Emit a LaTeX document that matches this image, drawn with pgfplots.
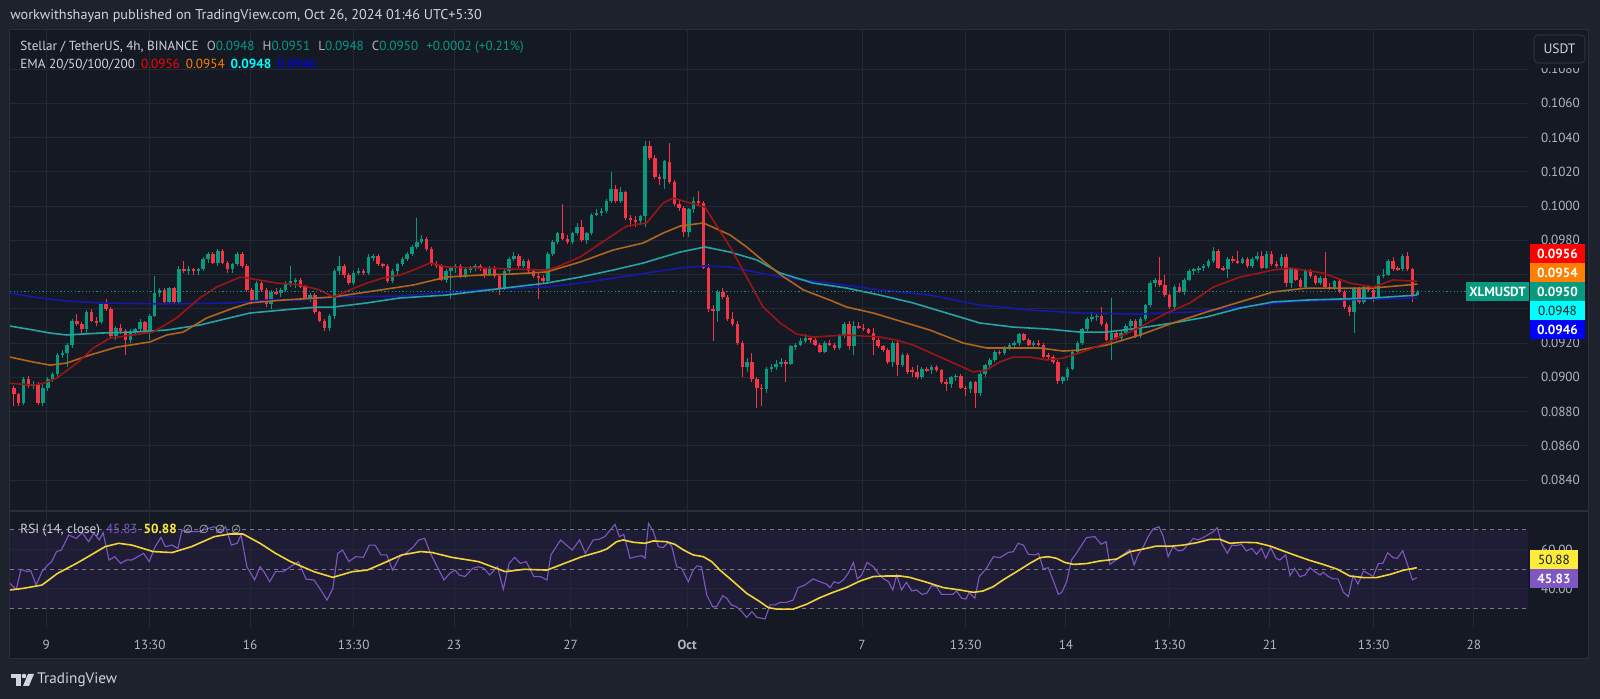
\documentclass[border=0pt]{standalone}
\usepackage{pgfplots}
\pgfplotsset{compat=1.18}
\usepackage{pgfplotstable}
\usepackage{fontspec}
\setmainfont{PT Sans}
\newfontfamily\dejavu{DejaVu Sans}
\definecolor{outerbg}{HTML}{1E222D}
\definecolor{panelbg}{HTML}{151924}
\definecolor{gridc}{HTML}{232835}
\definecolor{sepc}{HTML}{2A2E39}
\definecolor{txt}{HTML}{B2B5BE}
\definecolor{txtl}{HTML}{D1D4DC}
\definecolor{upc}{HTML}{089981}
\definecolor{dnc}{HTML}{F23645}
\definecolor{ema20}{HTML}{9A1616}
\definecolor{ema50}{HTML}{B0651C}
\definecolor{ema100}{HTML}{25A3A6}
\definecolor{ema200}{HTML}{1818A8}
\definecolor{rsic}{HTML}{7E57C2}
\definecolor{rsima}{HTML}{F2D43A}
\definecolor{band}{HTML}{1F1D35}
\definecolor{dashc}{HTML}{787B86}
\definecolor{lred}{HTML}{FF0000}
\definecolor{lorange}{HTML}{FF8000}
\definecolor{lcyan}{HTML}{00FFFF}
\definecolor{lblue}{HTML}{0000FF}
\definecolor{lyellow}{HTML}{FFEB3B}
\newcommand\fs[1]{\fontsize{#1}{#1}\selectfont}

\pgfplotstableread{
o h l c
0.0894 0.0895 0.0883 0.0890
0.0890 0.0891 0.0883 0.0885
0.0885 0.0900 0.0884 0.0899
0.0899 0.0901 0.0894 0.0895
0.0895 0.0898 0.0893 0.0896
0.0896 0.0897 0.0884 0.0885
0.0885 0.0896 0.0883 0.0894
0.0894 0.0900 0.0892 0.0899
0.0899 0.0903 0.0897 0.0902
0.0902 0.0914 0.0900 0.0913
0.0913 0.0916 0.0911 0.0914
0.0914 0.0920 0.0906 0.0919
0.0919 0.0934 0.0917 0.0933
0.0933 0.0937 0.0930 0.0931
0.0931 0.0932 0.0925 0.0928
0.0928 0.0939 0.0926 0.0938
0.0938 0.0940 0.0932 0.0933
0.0933 0.0935 0.0930 0.0932
0.0932 0.0944 0.0931 0.0943
0.0943 0.0946 0.0939 0.0940
0.0940 0.0941 0.0923 0.0924
0.0924 0.0930 0.0922 0.0929
0.0929 0.0931 0.0925 0.0927
0.0927 0.0928 0.0913 0.0922
0.0922 0.0928 0.0920 0.0927
0.0927 0.0929 0.0925 0.0928
0.0928 0.0934 0.0927 0.0932
0.0932 0.0933 0.0926 0.0927
0.0927 0.0937 0.0922 0.0936
0.0936 0.0959 0.0935 0.0949
0.0949 0.0952 0.0947 0.0951
0.0951 0.0952 0.0943 0.0944
0.0944 0.0953 0.0943 0.0952
0.0952 0.0953 0.0943 0.0944
0.0944 0.0965 0.0943 0.0963
0.0963 0.0968 0.0961 0.0962
0.0962 0.0965 0.0960 0.0963
0.0963 0.0964 0.0960 0.0962
0.0962 0.0964 0.0960 0.0963
0.0963 0.0970 0.0962 0.0969
0.0969 0.0973 0.0967 0.0972
0.0972 0.0973 0.0966 0.0967
0.0967 0.0975 0.0965 0.0974
0.0974 0.0975 0.0966 0.0967
0.0967 0.0968 0.0961 0.0963
0.0963 0.0967 0.0961 0.0966
0.0966 0.0973 0.0965 0.0972
0.0972 0.0973 0.0964 0.0965
0.0965 0.0966 0.0950 0.0951
0.0951 0.0952 0.0943 0.0945
0.0945 0.0956 0.0944 0.0955
0.0955 0.0957 0.0950 0.0951
0.0951 0.0952 0.0941 0.0943
0.0943 0.0951 0.0940 0.0950
0.0950 0.0952 0.0948 0.0949
0.0949 0.0952 0.0947 0.0951
0.0951 0.0956 0.0950 0.0955
0.0955 0.0965 0.0953 0.0956
0.0956 0.0958 0.0952 0.0957
0.0957 0.0958 0.0952 0.0953
0.0953 0.0954 0.0945 0.0946
0.0946 0.0949 0.0944 0.0948
0.0948 0.0949 0.0937 0.0938
0.0938 0.0939 0.0932 0.0933
0.0933 0.0934 0.0927 0.0929
0.0929 0.0937 0.0927 0.0936
0.0936 0.0963 0.0934 0.0962
0.0962 0.0971 0.0960 0.0965
0.0965 0.0966 0.0958 0.0960
0.0960 0.0961 0.0954 0.0955
0.0955 0.0962 0.0954 0.0961
0.0961 0.0964 0.0960 0.0962
0.0962 0.0963 0.0960 0.0961
0.0961 0.0972 0.0960 0.0970
0.0970 0.0972 0.0968 0.0971
0.0971 0.0972 0.0965 0.0966
0.0966 0.0967 0.0964 0.0965
0.0965 0.0966 0.0955 0.0956
0.0956 0.0963 0.0955 0.0962
0.0962 0.0967 0.0960 0.0966
0.0966 0.0970 0.0965 0.0969
0.0969 0.0973 0.0968 0.0972
0.0972 0.0977 0.0971 0.0976
0.0976 0.0993 0.0975 0.0979
0.0979 0.0983 0.0978 0.0981
0.0981 0.0982 0.0974 0.0975
0.0975 0.0976 0.0965 0.0966
0.0966 0.0968 0.0964 0.0965
0.0965 0.0966 0.0956 0.0957
0.0957 0.0963 0.0955 0.0962
0.0962 0.0965 0.0946 0.0964
0.0964 0.0966 0.0961 0.0965
0.0965 0.0966 0.0958 0.0959
0.0959 0.0964 0.0958 0.0963
0.0963 0.0965 0.0961 0.0964
0.0964 0.0966 0.0962 0.0965
0.0965 0.0966 0.0962 0.0963
0.0963 0.0964 0.0958 0.0960
0.0960 0.0965 0.0959 0.0964
0.0964 0.0965 0.0958 0.0959
0.0959 0.0960 0.0948 0.0952
0.0952 0.0963 0.0951 0.0962
0.0962 0.0970 0.0961 0.0969
0.0969 0.0973 0.0968 0.0971
0.0971 0.0972 0.0964 0.0965
0.0965 0.0969 0.0964 0.0968
0.0968 0.0969 0.0961 0.0962
0.0962 0.0963 0.0958 0.0959
0.0959 0.0961 0.0946 0.0958
0.0958 0.0960 0.0955 0.0956
0.0956 0.0973 0.0955 0.0972
0.0972 0.0980 0.0971 0.0979
0.0979 0.0985 0.0978 0.0984
0.0984 0.1001 0.0980 0.0981
0.0981 0.0983 0.0978 0.0979
0.0979 0.0985 0.0978 0.0984
0.0984 0.0990 0.0983 0.0988
0.0988 0.0992 0.0979 0.0980
0.0980 0.0985 0.0978 0.0984
0.0984 0.0996 0.0983 0.0995
0.0995 0.0998 0.0994 0.0996
0.0996 0.0999 0.0994 0.0997
0.0997 0.1004 0.0996 0.1003
0.1003 0.1020 0.1002 0.1010
0.1010 0.1012 0.1002 0.1003
0.1003 0.1011 0.1002 0.1008
0.1008 0.1009 0.0992 0.0993
0.0993 0.0995 0.0988 0.0992
0.0992 0.0994 0.0988 0.0991
0.0991 0.0995 0.0989 0.0994
0.0994 0.1038 0.0988 0.1035
0.1035 0.1038 0.1027 0.1028
0.1028 0.1030 0.1016 0.1017
0.1017 0.1019 0.1012 0.1016
0.1016 0.1027 0.1010 0.1026
0.1026 0.1037 0.1013 0.1014
0.1014 0.1015 0.1000 0.1001
0.1001 0.1003 0.0997 0.0999
0.0999 0.1000 0.0982 0.0985
0.0985 0.0999 0.0982 0.0998
0.0998 0.1005 0.0996 0.1003
0.1003 0.1009 0.1000 0.1002
0.1002 0.1003 0.0963 0.0964
0.0964 0.0966 0.0938 0.0940
0.0940 0.0942 0.0921 0.0939
0.0939 0.0951 0.0932 0.0950
0.0950 0.0952 0.0946 0.0947
0.0947 0.0948 0.0933 0.0934
0.0934 0.0938 0.0930 0.0931
0.0931 0.0933 0.0919 0.0920
0.0920 0.0921 0.0900 0.0906
0.0906 0.0911 0.0903 0.0909
0.0909 0.0914 0.0897 0.0899
0.0899 0.0900 0.0882 0.0894
0.0894 0.0896 0.0883 0.0893
0.0893 0.0906 0.0891 0.0905
0.0905 0.0908 0.0903 0.0906
0.0906 0.0910 0.0904 0.0908
0.0908 0.0911 0.0906 0.0909
0.0909 0.0910 0.0897 0.0908
0.0908 0.0919 0.0907 0.0918
0.0918 0.0920 0.0916 0.0919
0.0919 0.0923 0.0918 0.0921
0.0921 0.0925 0.0920 0.0923
0.0923 0.0924 0.0920 0.0922
0.0922 0.0923 0.0918 0.0919
0.0919 0.0920 0.0914 0.0915
0.0915 0.0921 0.0914 0.0920
0.0920 0.0922 0.0918 0.0919
0.0919 0.0920 0.0916 0.0917
0.0917 0.0925 0.0916 0.0924
0.0924 0.0932 0.0923 0.0931
0.0931 0.0933 0.0916 0.0918
0.0918 0.0933 0.0913 0.0930
0.0930 0.0932 0.0928 0.0929
0.0929 0.0931 0.0927 0.0928
0.0928 0.0929 0.0925 0.0926
0.0926 0.0929 0.0913 0.0922
0.0922 0.0923 0.0917 0.0918
0.0918 0.0919 0.0915 0.0916
0.0916 0.0917 0.0908 0.0909
0.0909 0.0921 0.0906 0.0920
0.0920 0.0921 0.0901 0.0907
0.0907 0.0914 0.0906 0.0913
0.0913 0.0914 0.0902 0.0903
0.0904 0.0906 0.0900 0.0903
0.0903 0.0907 0.0899 0.0900
0.0900 0.0906 0.0899 0.0905
0.0905 0.0906 0.0903 0.0904
0.0904 0.0907 0.0902 0.0906
0.0906 0.0907 0.0903 0.0904
0.0904 0.0905 0.0896 0.0897
0.0897 0.0899 0.0892 0.0896
0.0896 0.0901 0.0894 0.0900
0.0900 0.0902 0.0898 0.0901
0.0901 0.0902 0.0893 0.0894
0.0894 0.0895 0.0889 0.0893
0.0893 0.0898 0.0891 0.0897
0.0897 0.0898 0.0882 0.0891
0.0891 0.0903 0.0889 0.0902
0.0902 0.0908 0.0900 0.0907
0.0907 0.0911 0.0905 0.0910
0.0910 0.0916 0.0909 0.0915
0.0915 0.0916 0.0913 0.0914
0.0914 0.0918 0.0913 0.0917
0.0917 0.0920 0.0916 0.0919
0.0919 0.0921 0.0917 0.0920
0.0920 0.0926 0.0918 0.0925
0.0925 0.0926 0.0921 0.0922
0.0922 0.0923 0.0918 0.0919
0.0919 0.0921 0.0917 0.0920
0.0920 0.0922 0.0918 0.0919
0.0919 0.0920 0.0911 0.0912
0.0913 0.0914 0.0910 0.0912
0.0912 0.0913 0.0908 0.0909
0.0909 0.0910 0.0896 0.0898
0.0898 0.0901 0.0896 0.0900
0.0900 0.0906 0.0898 0.0905
0.0905 0.0916 0.0904 0.0915
0.0915 0.0921 0.0914 0.0920
0.0920 0.0929 0.0919 0.0928
0.0928 0.0935 0.0927 0.0934
0.0934 0.0938 0.0932 0.0935
0.0935 0.0937 0.0933 0.0936
0.0936 0.0941 0.0930 0.0931
0.0931 0.0932 0.0921 0.0922
0.0922 0.0946 0.0910 0.0926
0.0926 0.0927 0.0922 0.0923
0.0923 0.0927 0.0922 0.0926
0.0926 0.0931 0.0925 0.0930
0.0930 0.0934 0.0929 0.0933
0.0933 0.0934 0.0923 0.0924
0.0924 0.0935 0.0923 0.0934
0.0934 0.0943 0.0933 0.0942
0.0942 0.0956 0.0941 0.0955
0.0955 0.0958 0.0953 0.0957
0.0957 0.0970 0.0953 0.0954
0.0954 0.0960 0.0947 0.0948
0.0948 0.0949 0.0940 0.0941
0.0941 0.0954 0.0939 0.0953
0.0953 0.0955 0.0949 0.0950
0.0950 0.0958 0.0948 0.0957
0.0957 0.0963 0.0956 0.0962
0.0962 0.0964 0.0960 0.0963
0.0963 0.0965 0.0961 0.0964
0.0964 0.0966 0.0962 0.0965
0.0965 0.0969 0.0964 0.0968
0.0968 0.0976 0.0967 0.0974
0.0974 0.0975 0.0963 0.0964
0.0964 0.0965 0.0962 0.0963
0.0963 0.0970 0.0958 0.0969
0.0969 0.0971 0.0967 0.0968
0.0968 0.0974 0.0966 0.0967
0.0967 0.0970 0.0966 0.0969
0.0969 0.0970 0.0964 0.0965
0.0965 0.0970 0.0964 0.0969
0.0969 0.0973 0.0968 0.0971
0.0971 0.0974 0.0963 0.0964
0.0964 0.0974 0.0963 0.0972
0.0972 0.0974 0.0965 0.0966
0.0966 0.0968 0.0964 0.0965
0.0965 0.0972 0.0964 0.0970
0.0970 0.0972 0.0953 0.0955
0.0955 0.0964 0.0952 0.0963
0.0963 0.0964 0.0956 0.0957
0.0957 0.0958 0.0952 0.0953
0.0953 0.0963 0.0952 0.0962
0.0962 0.0963 0.0958 0.0959
0.0959 0.0960 0.0954 0.0955
0.0955 0.0959 0.0954 0.0958
0.0958 0.0973 0.0952 0.0953
0.0953 0.0955 0.0951 0.0952
0.0952 0.0957 0.0951 0.0956
0.0956 0.0957 0.0949 0.0950
0.0950 0.0951 0.0940 0.0941
0.0941 0.0942 0.0936 0.0938
0.0938 0.0953 0.0926 0.0952
0.0952 0.0953 0.0943 0.0944
0.0944 0.0954 0.0943 0.0953
0.0953 0.0954 0.0950 0.0951
0.0951 0.0952 0.0944 0.0946
0.0946 0.0960 0.0945 0.0959
0.0959 0.0963 0.0958 0.0960
0.0960 0.0969 0.0959 0.0968
0.0968 0.0970 0.0962 0.0963
0.0964 0.0965 0.0962 0.0963
0.0963 0.0972 0.0962 0.0971
0.0971 0.0973 0.0962 0.0963
0.0963 0.0964 0.0944 0.0948
0.0948 0.0951 0.0948 0.0950
}\candles

\pgfplotstableread{
i p
-0.8 0.08965
4.0 0.08955
6.1 0.08965
8.8 0.08995
13.0 0.09083
16.4 0.09171
19.8 0.09229
24.6 0.09247
28.7 0.09264
33.5 0.09346
38.3 0.09463
41.8 0.09527
46.6 0.09585
49.3 0.09574
54.1 0.09550
58.9 0.09539
63.0 0.09510
65.8 0.09469
69.2 0.09510
72.7 0.09550
76.1 0.09580
79.5 0.09597
82.3 0.09626
85.7 0.09667
89.1 0.09644
96.0 0.09638
102.8 0.09632
109.7 0.09626
111.8 0.09644
116.6 0.09702
123.4 0.09831
126.2 0.09883
130.3 0.09901
133.7 0.10017
135.8 0.10047
138.5 0.10023
142.3 0.09994
144.0 0.09918
147.5 0.09761
150.9 0.09585
154.3 0.09410
157.8 0.09317
161.2 0.09252
164.6 0.09235
171.5 0.09247
178.3 0.09235
181.8 0.09217
185.2 0.09188
192.1 0.09101
197.6 0.09031
200.3 0.09042
203.0 0.09089
205.8 0.09118
209.2 0.09118
212.7 0.09101
216.1 0.09112
219.5 0.09142
225.0 0.09200
231.9 0.09293
237.4 0.09375
242.2 0.09434
247.0 0.09527
252.5 0.09585
259.3 0.09626
262.8 0.09638
269.6 0.09609
275.1 0.09550
279.9 0.09527
284.0 0.09568
289.0 0.09560
}\emaA

\pgfplotstableread{
i p
-0.8 0.09118
4.0 0.09089
7.5 0.09071
10.9 0.09083
15.7 0.09130
21.2 0.09176
28.0 0.09206
31.5 0.09247
34.9 0.09264
39.7 0.09346
45.2 0.09404
48.6 0.09434
55.5 0.09451
62.4 0.09463
65.8 0.09469
72.7 0.09498
79.5 0.09527
82.3 0.09539
89.1 0.09585
96.0 0.09597
102.8 0.09603
109.7 0.09615
116.6 0.09673
123.4 0.09743
129.6 0.09784
133.7 0.09842
137.2 0.09883
142.0 0.09901
147.5 0.09831
150.9 0.09761
154.3 0.09680
157.8 0.09600
162.6 0.09510
168.1 0.09450
171.5 0.09410
177.0 0.09375
181.8 0.09334
188.6 0.09276
195.5 0.09200
200.3 0.09171
205.8 0.09171
211.3 0.09171
216.1 0.09153
219.5 0.09159
225.0 0.09188
231.9 0.09247
238.7 0.09317
245.6 0.09381
252.5 0.09440
259.3 0.09498
266.2 0.09521
273.1 0.09521
279.9 0.09521
289.0 0.09544
}\emaB

\pgfplotstableread{
i p
-0.8 0.09299
4.0 0.09276
7.5 0.09258
10.9 0.09247
17.7 0.09258
24.6 0.09264
31.5 0.09276
38.3 0.09305
45.2 0.09352
48.6 0.09375
55.5 0.09393
62.4 0.09410
65.8 0.09410
72.7 0.09434
79.5 0.09463
89.1 0.09480
102.8 0.09527
109.7 0.09550
116.6 0.09585
123.4 0.09626
129.6 0.09667
133.7 0.09702
137.2 0.09731
142.3 0.09761
147.5 0.09731
153.0 0.09685
157.8 0.09609
164.6 0.09550
171.5 0.09521
178.3 0.09480
185.2 0.09434
192.1 0.09375
198.9 0.09317
205.8 0.09293
212.7 0.09282
219.5 0.09264
225.0 0.09264
231.9 0.09288
238.7 0.09317
245.6 0.09352
252.5 0.09404
259.3 0.09440
266.2 0.09451
273.1 0.09457
279.9 0.09463
289.0 0.09480
}\emaC

\pgfplotstableread{
i p
-0.8 0.09492
4.0 0.09469
10.9 0.09445
17.7 0.09434
31.5 0.09428
45.2 0.09434
52.1 0.09451
58.9 0.09451
65.8 0.09469
79.5 0.09474
89.1 0.09498
102.8 0.09521
109.7 0.09527
116.6 0.09550
123.4 0.09579
130.3 0.09609
137.2 0.09638
142.3 0.09650
147.5 0.09644
157.8 0.09585
168.1 0.09550
178.3 0.09510
188.6 0.09480
198.9 0.09422
209.2 0.09393
219.5 0.09375
231.9 0.09369
242.2 0.09381
252.5 0.09410
262.8 0.09440
273.1 0.09451
289.0 0.09463
}\emaD

\pgfplotstableread{
i r
-0.8 42.9
0.5 39.8
1.5 50.0
2.7 48.8
3.5 49.3
4.6 42.0
5.8 48.8
7.0 52.2
7.8 53.9
8.8 59.0
9.8 59.8
11.3 67.4
12.9 65.7
14.1 68.6
15.4 64.0
16.5 68.3
17.6 64.9
18.4 68.6
19.6 54.7
20.8 56.4
22.0 53.0
23.2 54.7
24.3 54.7
25.5 56.4
26.7 58.1
27.9 53.9
29.1 61.5
30.3 66.2
31.2 61.5
32.6 62.3
33.8 60.6
34.6 69.6
36.6 69.1
38.1 69.1
40.1 70.8
41.3 71.6
42.5 68.6
43.6 71.6
44.8 62.3
46.0 63.2
46.8 67.4
48.0 51.3
49.6 44.6
50.7 51.3
51.5 48.8
52.7 43.7
53.9 48.8
55.5 48.8
57.0 51.3
58.6 53.9
60.2 44.9
61.8 44.6
63.0 40.3
64.5 34.4
65.7 40.3
66.7 58.1
67.7 59.8
69.0 53.9
70.4 56.4
72.0 56.1
73.2 62.3
74.4 62.3
75.6 57.3
76.8 57.3
78.0 49.6
79.5 56.4
80.7 58.1
82.3 61.5
83.4 64.9
84.6 65.7
85.8 58.1
87.0 52.2
88.6 44.6
89.8 48.0
90.9 49.6
91.7 47.1
92.9 46.3
94.5 50.5
95.7 51.3
96.8 50.5
98.0 47.1
99.6 51.3
100.8 39.8
102.0 53.0
103.1 56.1
104.3 53.0
105.5 53.9
107.1 46.3
108.4 46.3
109.8 44.6
110.6 57.3
112.6 64.9
113.8 62.3
115.0 59.8
116.5 64.9
117.7 58.1
119.3 64.9
120.5 65.2
121.7 66.6
122.8 69.9
123.8 72.8
124.7 66.6
125.6 67.7
126.9 55.6
128.2 56.4
129.3 56.9
130.0 55.6
130.7 73.3
131.7 69.1
132.7 61.5
133.7 61.0
134.8 63.7
135.5 61.5
136.5 51.3
137.5 50.5
138.9 43.7
139.9 49.6
140.7 51.8
141.6 51.3
142.7 36.9
143.9 31.0
144.7 31.0
146.0 36.6
146.8 35.3
147.8 31.9
148.8 31.0
149.9 28.5
150.9 25.6
152.0 28.5
153.0 25.6
154.7 24.8
155.7 31.9
156.7 31.9
157.8 33.2
159.1 33.2
160.5 34.4
161.5 40.7
162.9 42.0
164.6 45.1
166.0 43.7
167.4 42.4
168.1 40.7
168.9 43.7
169.8 42.9
170.8 44.6
171.8 47.9
172.9 53.5
173.7 45.1
174.6 47.1
175.7 53.5
177.0 51.3
178.0 47.9
179.0 45.4
180.1 43.7
181.0 39.5
181.8 47.1
182.8 39.5
183.8 43.4
184.9 39.0
185.9 39.5
187.0 37.3
188.0 37.8
189.0 41.7
190.0 41.2
191.0 37.3
192.4 37.3
193.4 37.3
194.1 39.0
195.2 35.3
196.1 34.9
196.7 38.3
197.9 35.3
198.8 46.3
200.3 50.5
201.7 56.4
203.1 55.9
204.8 58.6
205.8 58.9
206.8 63.2
207.9 62.3
208.9 57.6
210.3 57.3
211.0 58.1
212.0 50.2
213.0 50.8
214.0 44.6
215.1 37.3
215.8 38.3
216.8 43.7
217.8 54.7
218.8 58.1
219.9 62.3
220.9 66.1
222.6 66.6
223.9 62.7
224.9 64.0
225.7 52.5
226.7 54.2
227.8 56.4
228.8 58.1
229.8 60.1
230.7 52.2
231.5 57.3
232.6 61.5
233.6 66.6
234.6 70.5
235.8 71.6
236.7 66.6
237.7 56.4
238.7 61.5
239.8 59.3
240.8 59.8
241.8 62.7
242.9 65.7
243.9 64.9
244.9 66.1
246.0 67.7
247.0 69.1
247.8 71.1
248.7 63.2
249.9 58.1
250.8 62.3
251.8 62.0
252.8 62.7
253.8 59.3
254.9 60.6
255.9 57.6
256.9 60.6
257.8 55.6
258.8 61.0
259.9 55.6
260.7 54.7
261.9 57.3
262.8 46.8
263.7 50.5
264.8 46.3
265.9 47.1
266.9 50.8
267.9 48.8
269.0 47.1
269.6 48.5
270.7 46.3
271.7 45.1
272.7 45.1
273.8 38.3
274.8 36.1
275.8 46.8
276.8 42.5
277.9 49.1
278.9 47.9
279.9 46.3
281.0 53.0
281.9 53.0
282.9 58.4
284.0 55.9
284.9 55.6
286.0 59.5
286.9 53.0
288.0 44.6
288.9 45.8
}\rsi

\pgfplotstableread{
i r
-0.8 39.5
1.9 40.3
5.8 42.0
9.0 47.9
12.9 53.0
15.3 56.4
18.8 61.5
21.6 63.2
24.3 62.3
28.7 59.0
32.6 58.5
36.6 61.5
41.3 66.6
44.4 67.9
47.2 67.9
50.7 63.2
53.9 58.1
57.0 53.9
61.8 48.8
65.7 45.9
69.7 48.8
72.8 49.6
76.0 53.0
79.9 57.3
83.8 59.0
86.2 58.5
90.1 56.1
95.7 53.9
101.2 48.8
105.1 50.0
109.8 49.6
113.8 53.4
117.0 56.4
120.7 59.0
122.1 60.3
124.1 64.0
125.5 64.9
127.6 63.7
130.0 63.2
131.7 64.4
134.4 64.0
136.1 62.7
137.9 59.8
139.9 57.3
142.0 56.4
143.7 53.9
145.4 49.6
148.2 43.7
150.9 37.8
153.6 33.6
155.4 30.5
157.1 29.8
160.5 29.8
163.2 32.2
166.0 35.6
168.7 38.3
171.5 40.8
174.2 44.0
177.0 46.3
179.7 46.6
182.5 46.6
184.5 45.9
188.0 43.4
191.4 40.7
194.8 39.5
197.6 38.3
199.6 39.0
201.7 41.2
203.7 44.6
206.5 48.8
209.2 53.0
211.3 55.9
213.0 56.4
214.7 55.6
216.4 53.5
218.2 52.5
220.9 52.9
223.6 54.2
227.1 55.2
229.8 58.9
232.6 60.3
235.3 61.8
238.1 61.7
240.8 62.3
243.6 63.5
246.3 65.2
248.4 65.2
250.4 63.2
253.2 63.7
255.9 63.5
258.7 61.8
261.4 59.3
264.1 56.9
266.9 54.5
269.6 52.5
272.4 50.2
275.1 46.6
277.9 45.8
280.6 45.8
283.4 47.4
286.1 49.5
288.9 50.8
}\rsima

\begin{document}
\begin{tikzpicture}
\useasboundingbox (0pt,0pt) rectangle (800pt,349.5pt);
\begin{scope}[x=0.5pt,y=0.5pt]
\fill[outerbg] (0,0) rectangle (1600,699);
\fill[panelbg] (9,40) rectangle (1588,669);
\draw[sepc,line width=0.5pt] (9,40) rectangle (1588,669);
\fill[band] (10,90) rectangle (1528,169);
\draw[sepc,line width=0.6pt] (9,188) -- (1588,188);
\end{scope}

% ---------------- price pane ----------------
\begin{axis}[
  at={(5pt,94.5pt)}, anchor=south west, scale only axis,
  width=759pt, height=240pt,
  xmin=-0.78, xmax=311.8, ymin=0.08225, ymax=0.11028,
  axis line style={draw=none}, major tick length=0pt,
  xtick={6.66,28,48.66,70,90.66,114.66,138.66,174.66,196,216.66,238,258.66,280,300.66},
  xticklabels={},
  xticklabel style={text opacity=0},
  ytick={0.084,0.086,0.088,0.090,0.092,0.094,0.096,0.098,0.100,0.102,0.104,0.106,0.108},
  yticklabels={0.0840,0.0860,0.0880,0.0900,0.0920,,,0.0980,0.1000,0.1020,0.1040,0.1060,0.1080},
  scaled y ticks=false,
  yticklabel pos=right,
  yticklabel style={anchor=west, xshift=3pt, text=txt, font=\fs{6.6}},
  grid=major, major grid style={gridc, line width=0.5pt},
]
% wicks
\addplot[upc, draw=none, mark=none, forget plot,
  error bars/.cd, y dir=both, y explicit, error mark=none,
  error bar style={draw=upc, solid, line width=0.5pt}]
  table[x expr=\coordindex,
        y expr={\thisrow{c}>=\thisrow{o} ? (\thisrow{h}+\thisrow{l})/2 : nan},
        y error expr={(\thisrow{h}-\thisrow{l})/2}] {\candles};
\addplot[dnc, draw=none, mark=none, forget plot,
  error bars/.cd, y dir=both, y explicit, error mark=none,
  error bar style={draw=dnc, solid, line width=0.5pt}]
  table[x expr=\coordindex,
        y expr={\thisrow{c}<\thisrow{o} ? (\thisrow{h}+\thisrow{l})/2 : nan},
        y error expr={(\thisrow{h}-\thisrow{l})/2}] {\candles};
% bodies
\addplot[upc, draw=none, mark=none, forget plot,
  error bars/.cd, y dir=both, y explicit, error mark=none,
  error bar style={draw=upc, solid, line width=1.75pt}]
  table[x expr=\coordindex,
        y expr={\thisrow{c}>=\thisrow{o} ? (\thisrow{o}+\thisrow{c})/2 : nan},
        y error expr={max((\thisrow{c}-\thisrow{o})/2,0.00003)}] {\candles};
\addplot[dnc, draw=none, mark=none, forget plot,
  error bars/.cd, y dir=both, y explicit, error mark=none,
  error bar style={draw=dnc, solid, line width=1.75pt}]
  table[x expr=\coordindex,
        y expr={\thisrow{c}<\thisrow{o} ? (\thisrow{o}+\thisrow{c})/2 : nan},
        y error expr={max((\thisrow{o}-\thisrow{c})/2,0.00003)}] {\candles};
% EMAs
\addplot[ema200, line width=0.8pt] table[x=i,y=p] {\emaD};
\addplot[ema100, line width=0.8pt] table[x=i,y=p] {\emaC};
\addplot[ema50, line width=0.8pt] table[x=i,y=p] {\emaB};
\addplot[ema20, line width=0.8pt] table[x=i,y=p] {\emaA};
% last price line
\addplot[upc, line width=0.5pt, dash pattern=on 0.6pt off 1.2pt] coordinates {(-0.78,0.0950) (299,0.0950)};
\end{axis}

% ---------------- RSI pane ----------------
\begin{axis}[
  at={(5pt,35.5pt)}, anchor=south west, scale only axis,
  width=759pt, height=58.5pt,
  xmin=-0.78, xmax=311.8, ymin=20.2, ymax=79.6,
  axis line style={draw=none}, major tick length=0pt,
  xtick={6.66,28,48.66,70,90.66,114.66,138.66,174.66,196,216.66,238,258.66,280,300.66},
  xticklabels={9,13:30,16,13:30,23,27,\textbf{Oct},7,13:30,14,13:30,21,13:30,28},
  xticklabel style={anchor=center, yshift=-8.5pt, text=txt, font=\fs{6.6}},
  ytick={40,60}, yticklabels={40.00,60.00},
  yticklabel pos=right,
  yticklabel style={anchor=west, xshift=3pt, text=txt, font=\fs{6.6}},
  grid=major, major grid style={gridc, line width=0.5pt},
]
\addplot[dashc, line width=0.5pt, dash pattern=on 2pt off 2pt] coordinates {(-0.78,70) (311.8,70)};
\addplot[dashc, line width=0.5pt, dash pattern=on 2pt off 2pt] coordinates {(-0.78,50) (311.8,50)};
\addplot[dashc, line width=0.5pt, dash pattern=on 2pt off 2pt] coordinates {(-0.78,30) (311.8,30)};
\addplot[rsic, line width=0.55pt] table[x=i,y=r] {\rsi};
\addplot[rsima, line width=0.8pt] table[x=i,y=r] {\rsima};
\end{axis}

% ---------------- texts ----------------
\begin{scope}[x=0.5pt,y=0.5pt]
\node[anchor=west, inner sep=0pt, text=txtl, font=\fs{7.1}] at (10,683)
  {workwithshayan published on TradingView.com, Oct 26, 2024 01:46 UTC+5:30};
\node[anchor=west, inner sep=0pt, font=\fs{6.6}] at (20,652)
  {\textcolor{txtl}{Stellar / TetherUS, 4h, BINANCE}\hspace{4pt}\textcolor{txt}{O}\textcolor{upc}{0.0948}\hspace{4pt}\textcolor{txt}{H}\textcolor{upc}{0.0951}\hspace{4pt}\textcolor{txt}{L}\textcolor{upc}{0.0948}\hspace{4pt}\textcolor{txt}{C}\textcolor{upc}{0.0950}\hspace{4pt}\textcolor{upc}{+0.0002 (+0.21\%)}};
\node[anchor=west, inner sep=0pt, font=\fs{6.6}] at (20,634)
  {\textcolor{txtl}{EMA 20/50/100/200}\hspace{3pt}\textcolor{lred}{0.0956}\hspace{3pt}\textcolor{lorange}{0.0954}\hspace{3pt}\textcolor{lcyan}{\textbf{0.0948}}\hspace{3pt}\textcolor{lblue}{0.0946}};
\node[anchor=west, inner sep=0pt, font=\fs{6.6}] at (20,169)
  {\textcolor{txtl}{RSI (14, close)}\hspace{3pt}\textcolor{rsic}{45.83}\hspace{3pt}\textcolor{lyellow}{\textbf{50.88}}\hspace{3pt}\textcolor{txt}{\dejavu\fs{5.8}∅\hspace{3pt}∅\hspace{3pt}∅\hspace{3pt}∅}};

% mask top of price scale, USDT button
\fill[panelbg] (1529,631) rectangle (1587.5,668.5);
\draw[rounded corners=2pt, fill=panelbg, draw=sepc, line width=0.6pt] (1534,636) rectangle (1585,664);
\node[text=txtl, font=\fs{6.8}] at (1559.5,650) {USDT};

% price labels
\node[fill=lred, text=white, minimum width=27.5pt, minimum height=9.5pt, inner sep=0pt, font=\fs{6.6}\bfseries] at (1557.5,445.5) {0.0956};
\node[fill=lorange, text=white, minimum width=27.5pt, minimum height=9.5pt, inner sep=0pt, font=\fs{6.6}\bfseries] at (1557.5,426.5) {0.0954};
\node[fill=upc, text=white, minimum width=27.5pt, minimum height=9.5pt, inner sep=0pt, font=\fs{6.6}\bfseries] at (1557.5,407.5) {0.0950};
\node[fill=upc, text=white, minimum width=31.5pt, minimum height=9.5pt, inner sep=0pt, font=\fs{6.6}\bfseries] at (1497.5,407.5) {XLMUSDT};
\node[fill=lcyan, text=panelbg, minimum width=27.5pt, minimum height=9.5pt, inner sep=0pt, font=\fs{6.6}] at (1557.5,388.5) {0.0948};
\node[fill=lblue, text=white, minimum width=27.5pt, minimum height=9.5pt, inner sep=0pt, font=\fs{6.6}\bfseries] at (1557.5,369.5) {0.0946};
% RSI labels
\node[fill=lyellow, text=panelbg, minimum width=24pt, minimum height=9.5pt, inner sep=0pt, font=\fs{6.6}] at (1554,139.5) {50.88};
\node[fill=rsic, text=white, minimum width=24pt, minimum height=9.5pt, inner sep=0pt, font=\fs{6.6}\bfseries] at (1554,120.5) {45.83};

% TradingView logo
\fill[txtl] (11,25) rectangle (21,21);
\fill[txtl] (15.5,21) rectangle (21,13);
\fill[txtl] (24,23) circle (2.3);
\fill[txtl] (28,25) -- (34,25) -- (29,13) -- (23,13) -- cycle;
\node[anchor=west, inner sep=0pt, text=txtl, font=\fs{7.6}] at (37,19) {TradingView};
\end{scope}
\end{tikzpicture}
\end{document}
